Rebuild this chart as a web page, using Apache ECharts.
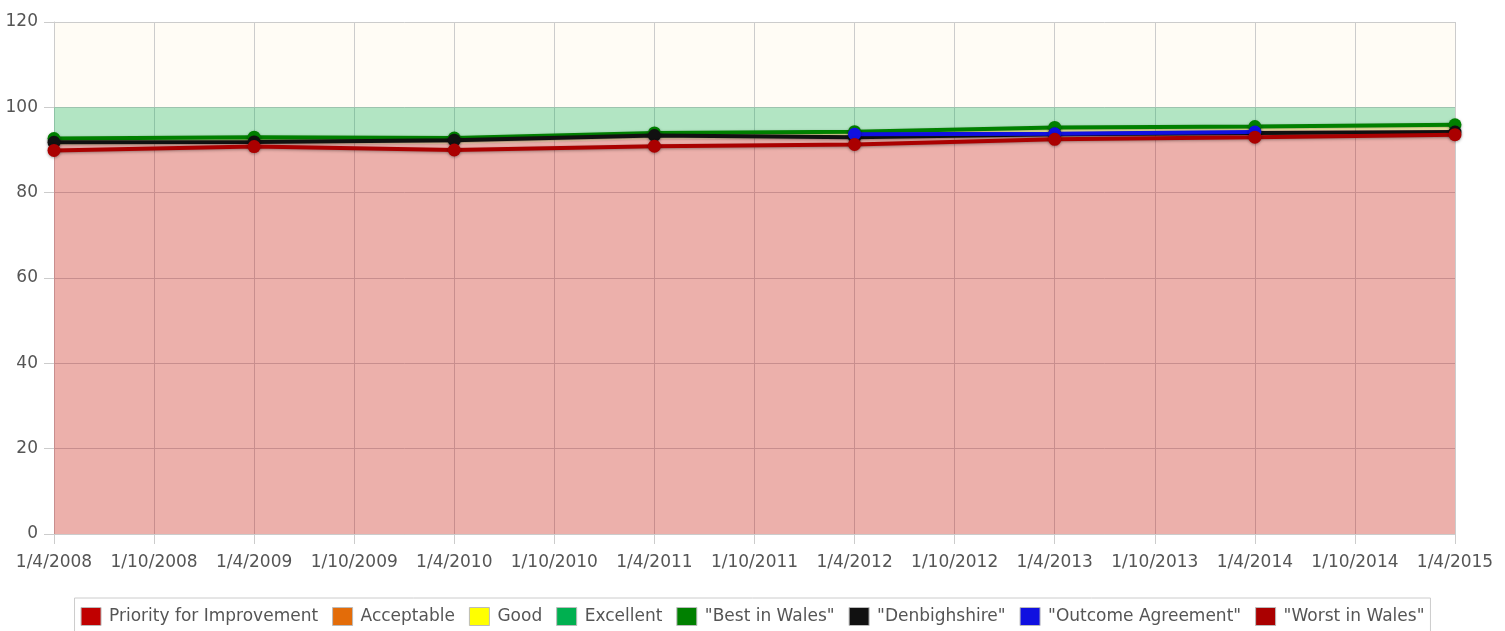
<!DOCTYPE html>
<html>
<head>
<meta charset="utf-8">
<script src="https://cdn.jsdelivr.net/npm/echarts@6/dist/echarts.min.js"></script>
<style>
  html, body { margin: 0; padding: 0; background: #fff; }
  #chart { width: 1505px; height: 631px; }
</style>
</head>
<body>
<div id="chart"></div>
<script>
// half-yearly tick labels on the x axis
const tickLabels = ['1/4/2008', '1/10/2008', '1/4/2009', '1/10/2009', '1/4/2010', '1/10/2010', '1/4/2011',
  '1/10/2011', '1/4/2012', '1/10/2012', '1/4/2013', '1/10/2013', '1/4/2014', '1/10/2014', '1/4/2015']
// dates of the data points (every April)
const pointDates = ['1/4/2008', '1/4/2009', '1/4/2010', '1/4/2011', '1/4/2012', '1/4/2013', '1/4/2014', '1/4/2015']

// band thresholds (upper edge of each band)
const priorityTop = [91.2, 91.4, 91.4, 92.6, 92.6, 93.4, 93.8, 94.0]
const acceptableTop = [91.8, 92.0, 92.0, 93.2, 93.3, 94.2, 94.6, 94.8]
const goodTop = [92.4, 92.6, 92.6, 93.8, 94.0, 95.0, 95.2, 95.6]
const bandMax = 100

const bestInWales = [92.7, 93.0, 92.8, 94.0, 94.3, 95.3, 95.5, 95.9]
const denbighshire = [91.8, 91.9, 92.3, 93.4, 93.0, 93.7, 94.0, 94.2]
const outcomeAgreement = ['-', '-', '-', '-', 93.7, 93.8, 94.2, '-']
const worstInWales = [89.9, 90.8, 90.0, 90.9, 91.3, 92.5, 93.0, 93.6]

const diff = (hi, lo) => hi.map((v, i) => +(v - (lo ? lo[i] : 0)).toFixed(2))

const FONT = 'DejaVu Sans'
const chart = echarts.init(document.getElementById('chart'))

const band = (name, color, values) => ({
  name,
  type: 'line',
  xAxisIndex: 1,
  stack: 'bands',
  symbol: 'none',
  lineStyle: { width: 0 },
  itemStyle: { color },
  areaStyle: { color, opacity: 0.3 },
  z: 1,
  silent: true,
  data: values
})

const line = (name, color, values, z) => ({
  name,
  type: 'line',
  xAxisIndex: 1,
  symbol: 'circle',
  symbolSize: 13,
  z,
  itemStyle: { color, shadowColor: 'rgba(0,0,0,0.35)', shadowBlur: 3, shadowOffsetY: 1 },
  lineStyle: { color, width: 4, shadowColor: 'rgba(0,0,0,0.35)', shadowBlur: 3, shadowOffsetY: 1 },
  data: values
})

const options = {
  animation: false,
  textStyle: { fontFamily: FONT },
  grid: {
    left: 54,
    right: 50,
    top: 22,
    bottom: 97,
    show: true,
    backgroundColor: '#fffcf5',
    borderWidth: 0
  },
  legend: {
    left: 'center',
    top: 598,
    itemGap: 14,
    itemWidth: 20,
    itemHeight: 18,
    padding: [9, 6, 12, 6],
    borderColor: '#cccccc',
    borderWidth: 1,
    icon: 'rect',
    textStyle: { fontFamily: FONT, fontSize: 17, color: '#555', padding: [0, 0, 0, 3] },
    itemStyle: { borderColor: '#bbbbbb', borderWidth: 1 },
    data: [
      { name: 'Priority for Improvement', itemStyle: { color: '#c00000', opacity: 1 } },
      { name: 'Acceptable', itemStyle: { color: '#e36c09', opacity: 1 } },
      { name: 'Good', itemStyle: { color: '#ffff00', opacity: 1 } },
      { name: 'Excellent', itemStyle: { color: '#00b050', opacity: 1 } },
      '"Best in Wales"', '"Denbighshire"', '"Outcome Agreement"', '"Worst in Wales"'
    ]
  },
  xAxis: [
    {
      type: 'category',
      boundaryGap: false,
      data: tickLabels,
      axisLine: { show: true, lineStyle: { color: '#cccccc' } },
      axisTick: { show: true, length: 10, lineStyle: { color: '#cccccc' } },
      axisLabel: { fontSize: 17, color: '#555', margin: 20, interval: 0 },
      splitLine: { show: true, lineStyle: { color: '#cccccc' } }
    },
    {
      type: 'category',
      boundaryGap: false,
      data: pointDates,
      show: false
    }
  ],
  yAxis: {
    type: 'value',
    min: 0,
    max: 120,
    interval: 20,
    axisLine: { show: true, lineStyle: { color: '#cccccc' } },
    axisTick: { show: true, length: 10, lineStyle: { color: '#cccccc' } },
    axisLabel: { fontSize: 17, color: '#555', margin: 16 },
    splitLine: { show: true, lineStyle: { color: '#cccccc' } }
  },
  series: [
    band('Priority for Improvement', '#c00000', diff(priorityTop)),
    band('Acceptable', '#e36c09', diff(acceptableTop, priorityTop)),
    band('Good', '#ffff00', diff(goodTop, acceptableTop)),
    band('Excellent', '#00b050', goodTop.map(v => +(bandMax - v).toFixed(2))),
    line('"Best in Wales"', '#008000', bestInWales, 3),
    line('"Denbighshire"', '#111111', denbighshire, 4),
    line('"Outcome Agreement"', '#1010e0', outcomeAgreement, 5),
    line('"Worst in Wales"', '#aa0000', worstInWales, 6)
  ]
}

chart.setOption(options)
</script>
</body>
</html>
